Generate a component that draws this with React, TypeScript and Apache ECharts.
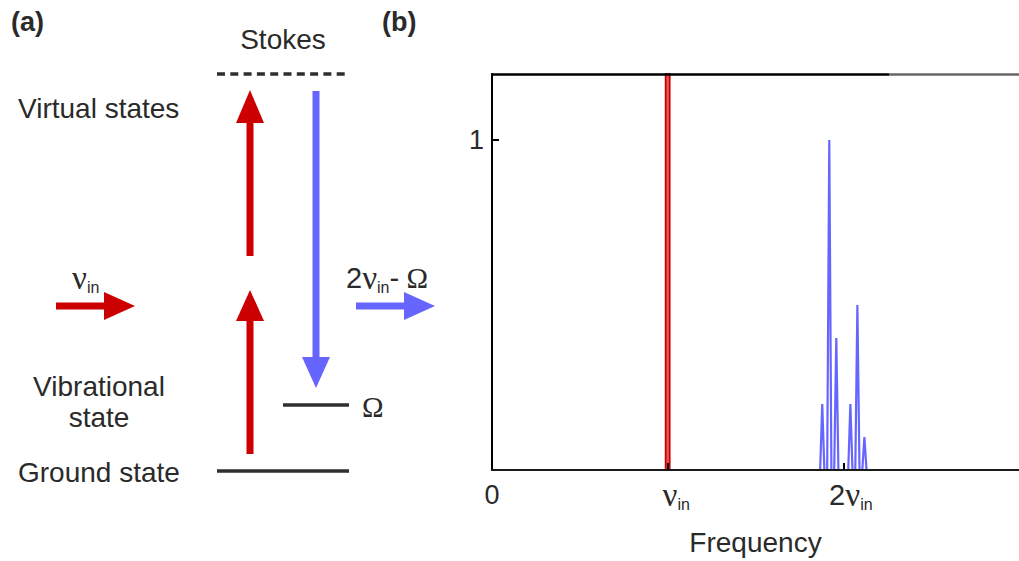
import React, { useEffect, useRef } from "react";
import * as echarts from "echarts";

// ---- data ----
const xTickValues = [0, 1, 2];
const xTickLabels = ["0", "{pad|}{nu|ν}{s|in}", "{pad2|}{n|2}{nu|ν}{s|in}"];
const yTickValues = [1];
const yTickLabels = ["1"];
const pumpFreq = 1.0; // ν_in
const pumpAmp = 1.4; // off-scale
const pumpBaseline = [0, 1.66];
const stokesBaseline = [1.81, 3];
const stokesPeakFreq = [1.88, 1.92, 1.96, 2.04, 2.08, 2.12];
const stokesPeakAmp = [0.2, 1.0, 0.4, 0.2, 0.5, 0.1];
const xMin = 0;
const xMax = 3;
const yMin = 0;
const yMax = 1.2;

const SANS = "'Liberation Sans', Arial, sans-serif";
const SERIF = "'Liberation Serif', 'Times New Roman', serif";
const RED = "#cc0000";
const BLUE = "#6666ff";
const TXT = "#2a2a2a";
const DARK = "#2e2e2e";

function buildPump() {
  const hw = 0.0115;
  return [
    [pumpBaseline[0], 0],
    [pumpFreq - hw, 0],
    [pumpFreq - hw, pumpAmp],
    [pumpFreq + hw, pumpAmp],
    [pumpFreq + hw, 0],
    [pumpBaseline[1], 0],
  ];
}

function buildStokes() {
  const hw = 0.012;
  const d: number[][] = [[stokesBaseline[0], 0]];
  stokesPeakFreq.forEach((f, i) => {
    d.push([f - hw, 0], [f, stokesPeakAmp[i]], [f + hw, 0]);
  });
  d.push([stokesBaseline[1], 0]);
  return d;
}

function arrowUp(cx: number, tip: number, headBase: number, tail: number, color: string) {
  return [
    { type: "rect", shape: { x: cx - 3.5, y: headBase - 1, width: 7, height: tail - headBase + 1 }, style: { fill: color } },
    { type: "polygon", shape: { points: [[cx - 14, headBase], [cx + 14, headBase], [cx, tip]] }, style: { fill: color } },
  ];
}
function arrowDown(cx: number, tip: number, headBase: number, tail: number, color: string) {
  return [
    { type: "rect", shape: { x: cx - 3.5, y: tail, width: 7, height: headBase - tail + 1 }, style: { fill: color } },
    { type: "polygon", shape: { points: [[cx - 14, headBase], [cx + 14, headBase], [cx, tip]] }, style: { fill: color } },
  ];
}
function arrowRight(cy: number, tail: number, headBase: number, tip: number, color: string) {
  return [
    { type: "rect", shape: { x: tail, y: cy - 3.5, width: headBase - tail + 1, height: 7 }, style: { fill: color } },
    { type: "polygon", shape: { points: [[headBase, cy - 14], [headBase, cy + 14], [tip, cy]] }, style: { fill: color } },
  ];
}

function txt(text: string, x: number, y: number, opts: any = {}) {
  return {
    type: "text",
    style: {
      text,
      x,
      y,
      fill: TXT,
      fontFamily: SANS,
      fontSize: 28,
      align: "left",
      verticalAlign: "middle",
      ...opts,
    },
  };
}

const subRich = {
  n: { fontFamily: SANS, fontSize: 29, lineHeight: 34, fill: TXT, color: TXT },
  nu: { fontFamily: SERIF, fontSize: 33, lineHeight: 34, fill: TXT, color: TXT },
  om: { fontFamily: SERIF, fontSize: 29, lineHeight: 34, fill: TXT, color: TXT },
  s: { fontFamily: SANS, fontSize: 16, lineHeight: 17, verticalAlign: "bottom", fill: TXT, color: TXT },
};

export default function App() {
  const ref = useRef<HTMLDivElement>(null);
  useEffect(() => {
    if (!ref.current) return;
    const chart = echarts.init(ref.current, undefined, { renderer: "svg" });
    const graphic: any[] = [
      txt("(a)", 11, 22, { fontWeight: "bold", fontSize: 27 }),
      txt("(b)", 382, 22, { fontWeight: "bold", fontSize: 27 }),
      txt("Stokes", 283, 39, { align: "center" }),
      txt("Virtual states", 18, 108),
      txt("Vibrational", 99, 386, { align: "center" }),
      txt("state", 99, 417, { align: "center" }),
      txt("Ground state", 18, 472),
      txt("Ω", 362, 407, { fontFamily: SERIF, fontSize: 29 }),
      {
        type: "text",
        style: { text: "{nu|ν}{s|in}", x: 72, y: 278, rich: subRich, verticalAlign: "middle", align: "left" },
      },
      {
        type: "text",
        style: { text: "{n|2}{nu|ν}{s|in}{n|-}{om| Ω}", x: 346, y: 278, rich: subRich, verticalAlign: "middle", align: "left" },
      },
      { type: "line", shape: { x1: 217, y1: 74, x2: 350, y2: 74 }, style: { stroke: DARK, lineWidth: 3.5, lineDash: [8, 5.3] } },
      { type: "line", shape: { x1: 283, y1: 405, x2: 349, y2: 405 }, style: { stroke: DARK, lineWidth: 3.5 } },
      { type: "line", shape: { x1: 217, y1: 471, x2: 349, y2: 471 }, style: { stroke: DARK, lineWidth: 3.5 } },
      ...arrowUp(250, 90, 123, 256, RED),
      ...arrowUp(250, 290, 321, 454, RED),
      ...arrowDown(316, 388, 357, 91, BLUE),
      ...arrowRight(306, 56, 104, 135, RED),
      ...arrowRight(306, 356, 404, 435, BLUE),
      // frame top line of panel (b)
      { type: "line", z: 10, shape: { x1: 491, y1: 74.5, x2: 889, y2: 74.5 }, style: { stroke: "#000", lineWidth: 2.5 } },
      { type: "line", z: 10, shape: { x1: 889, y1: 74.5, x2: 1019, y2: 74.5 }, style: { stroke: "#666", lineWidth: 2.5 } },
    ];

    chart.setOption({
      animation: false,
      backgroundColor: "#ffffff",
      grid: { left: 492, top: 74, width: 531, height: 397, containLabel: false },
      xAxis: {
        type: "value",
        min: xMin,
        max: xMax,
        interval: 1,
        z: 5,
        splitLine: { show: false },
        axisLine: { show: true, onZero: false, lineStyle: { color: "#1a1a1a", width: 2 } },
        axisTick: { show: true, inside: true, length: 7, customValues: [1, 2], lineStyle: { color: "#000", width: 2 } },
        axisLabel: {
          customValues: xTickValues,
          margin: 8,
          fontFamily: SANS,
          fontSize: 27,
          lineHeight: 34,
          color: TXT,
          formatter: (v: number) => {
            const i = xTickValues.indexOf(v);
            return i >= 0 ? xTickLabels[i] : "";
          },
          rich: {
            ...subRich,
            pad: { width: 17 },
            pad2: { width: 15 },
          },
        },
        name: "Frequency",
        nameLocation: "middle",
        nameGap: 58,
        nameTextStyle: { fontFamily: SANS, fontSize: 28, color: TXT },
      },
      yAxis: {
        type: "value",
        min: yMin,
        max: yMax,
        interval: 1,
        z: 5,
        splitLine: { show: false },
        axisLine: { show: true, onZero: false, lineStyle: { color: "#000", width: 2 } },
        axisTick: { show: true, inside: true, length: 7, customValues: yTickValues, lineStyle: { color: "#000", width: 2 } },
        axisLabel: {
          customValues: yTickValues,
          margin: 8,
          fontFamily: SANS,
          fontSize: 27,
          color: TXT,
          formatter: (v: number) => {
            const i = yTickValues.indexOf(v);
            return i >= 0 ? yTickLabels[i] : "";
          },
        },
      },
      graphic,
      series: [
        {
          type: "line",
          data: buildPump(),
          symbol: "none",
          clip: true,
          lineStyle: { color: RED, width: 1.8 },
          areaStyle: { color: "#e45a5a", opacity: 1 },
          z: 2,
        },
        {
          type: "line",
          data: buildStokes(),
          symbol: "none",
          clip: true,
          lineStyle: { color: BLUE, width: 2.2 },
          z: 2,
        },
      ],
    });
    return () => chart.dispose();
  }, []);
  return (
    <div
      ref={ref}
      style={{ position: "fixed", left: 0, top: 0, width: 1019, height: 561, background: "#fff" }}
    />
  );
}
